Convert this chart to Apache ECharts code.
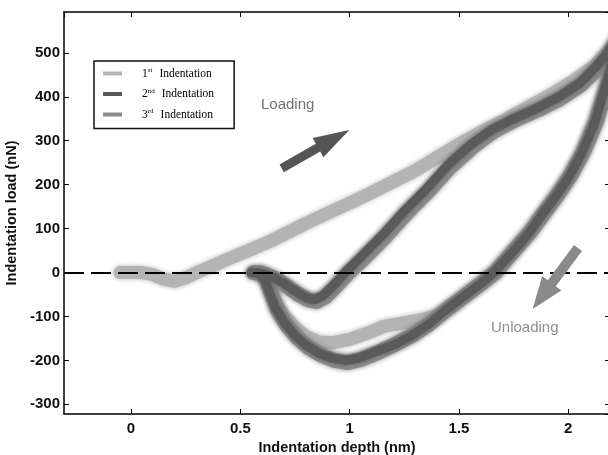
<!DOCTYPE html>
<html>
<head>
<meta charset="utf-8">
<script src="https://cdn.jsdelivr.net/npm/echarts@6/dist/echarts.min.js"></script>
<style>
html,body{margin:0;padding:0;background:#fff;}
#chart{width:608px;height:455px;}
</style>
</head>
<body>
<div id="chart"></div>
<script>
// ---- data (depth in nm, load in nN) ----
const seriesNames = ['1st Indentation', '2nd Indentation', '3rd Indentation'];
const xTicks = [0, 0.5, 1, 1.5, 2];
const yTicks = [-300, -200, -100, 0, 100, 200, 300, 400, 500];

// 1st indentation: loading then unloading
const ind1X = [-0.05,0.05,0.10,0.15,0.20,0.25,0.30,0.36,0.43,0.50,0.57,0.64,0.72,0.80,0.90,1.00,1.10,1.20,1.30,1.40,1.52,1.62,1.72,1.82,1.92,2.02,2.12,2.24,
               2.18,2.12,2.06,2.00,1.94,1.88,1.82,1.76,1.70,1.66,1.60,1.52,1.46,1.40,1.32,1.24,1.16,1.08,1.00,0.92,0.86,0.80,0.75,0.70,0.66,0.63,0.60];
const ind1Y = [0,0,-5,-15,-20,-12,0,12,28,42,57,72,92,112,135,158,182,207,232,262,298,325,350,378,405,435,470,535,
               440,345,272,218,172,132,92,56,22,0,-25,-55,-80,-98,-108,-115,-122,-138,-152,-160,-158,-145,-125,-98,-65,-25,0];

// 2nd indentation
const ind2X = [0.55,0.60,0.65,0.70,0.75,0.80,0.84,0.88,0.93,0.98,1.05,1.15,1.25,1.35,1.45,1.55,1.65,1.75,1.85,1.95,2.05,2.12,2.18,2.24,
               2.18,2.12,2.06,2.00,1.94,1.88,1.82,1.76,1.70,1.66,1.60,1.52,1.44,1.36,1.28,1.20,1.12,1.04,0.98,0.92,0.86,0.80,0.75,0.70,0.66,0.63,0.61,0.58];
const ind2Y = [0,-2,-10,-25,-42,-57,-62,-52,-28,0,35,85,140,190,245,290,325,350,372,398,430,465,500,550,
               440,340,270,215,172,132,90,55,22,0,-25,-55,-85,-118,-145,-165,-180,-195,-200,-195,-184,-165,-143,-113,-80,-40,-15,0];

// 3rd indentation
const ind3X = [0.56,0.61,0.66,0.71,0.76,0.81,0.85,0.89,0.94,0.99,1.06,1.16,1.26,1.36,1.46,1.56,1.66,1.76,1.86,1.96,2.06,2.13,2.19,2.24,
               2.19,2.13,2.07,2.01,1.95,1.89,1.83,1.77,1.71,1.67,1.61,1.53,1.45,1.37,1.29,1.21,1.13,1.05,0.99,0.93,0.87,0.81,0.76,0.71,0.67,0.64,0.62,0.59];
const ind3Y = [0,-3,-14,-30,-48,-62,-66,-55,-30,-3,30,80,135,185,240,285,322,348,370,395,428,462,498,545,
               445,345,275,220,176,136,95,60,26,2,-22,-52,-82,-115,-142,-163,-182,-198,-205,-200,-188,-170,-148,-118,-85,-45,-18,0];

function pairs(xs, ys) { return xs.map((x, i) => [x, ys[i]]); }

const chart = echarts.init(document.getElementById('chart'), null, {renderer: 'canvas'});

const axisFont = {fontFamily: 'Liberation Sans', fontWeight: 'bold', fontSize: 15, color: '#111'};
const xMin = -0.3064, xMax = 2.1908, yMin = -322, yMax = 593;

function xAxisCfg(pos, labels) {
  return {
    type: 'value', position: pos, min: xMin, max: xMax,
    minInterval: 0.5, maxInterval: 0.5, splitNumber: 5,
    axisLine: {onZero: false, lineStyle: {color: '#000', width: 1.5}},
    axisTick: {inside: true, length: 5, lineStyle: {color: '#000', width: 1}},
    axisLabel: labels ? Object.assign({margin: 7, showMinLabel: false, showMaxLabel: false,
      formatter: v => (xTicks.indexOf(v) >= 0 ? String(v) : '')}, axisFont) : {show: false},
    splitLine: {show: false}
  };
}
function yAxisCfg(pos, labels) {
  return {
    type: 'value', position: pos, min: yMin, max: yMax,
    minInterval: 100, maxInterval: 100, splitNumber: 9,
    axisLine: {onZero: false, lineStyle: {color: '#000', width: 1.5}},
    axisTick: {inside: true, length: 5, lineStyle: {color: '#000', width: 1}},
    axisLabel: labels ? Object.assign({margin: 4, showMinLabel: false, showMaxLabel: false,
      formatter: v => (yTicks.indexOf(v) >= 0 ? String(v) : '')}, axisFont) : {show: false},
    splitLine: {show: false}
  };
}

const titleFont = {fontFamily: 'Liberation Sans', fontWeight: 'bold', fontSize: 14.5, color: '#111'};
const xMain = xAxisCfg('bottom', true);
xMain.name = 'Indentation depth (nm)';
xMain.nameLocation = 'middle';
xMain.nameGap = 24;
xMain.nameTextStyle = titleFont;
const yMain = yAxisCfg('left', true);
yMain.name = 'Indentation load (nN)';
yMain.nameLocation = 'middle';
yMain.nameGap = 37;
yMain.nameTextStyle = titleFont;

const colors = ['#b4b4b4', '#5a5a5a', '#8c8c8c'];

function lineSeries(name, xs, ys, color, width, z) {
  return {
    name: name, type: 'line', data: pairs(xs, ys), showSymbol: false, symbol: 'none',
    color: color, clip: true, z: z,
    lineStyle: {color: color, width: width, join: 'round', cap: 'round',
      shadowBlur: 5, shadowColor: color}
  };
}

const option = {
  animation: false,
  backgroundColor: '#fff',
  grid: {left: 64, top: 12, right: -2, bottom: 41, containLabel: false, outerBoundsMode: 'none'},
  xAxis: [xMain, xAxisCfg('top', false)],
  yAxis: [yMain, yAxisCfg('right', false)],
  legend: {
    data: seriesNames,
    orient: 'vertical',
    left: 94, top: 61,
    padding: [6, 20, 8, 9],
    itemGap: 8,
    itemWidth: 19, itemHeight: 4,
    icon: 'rect',
    borderColor: '#111', borderWidth: 1.5,
    backgroundColor: '#fff',
    selectedMode: false,
    formatter: function (name) {
      return name.replace(/^(\d)(st|nd|rd) (.*)$/, '{n|$1}{s|$2}{t|$3}');
    },
    textStyle: {
      color: '#000', fontFamily: 'Liberation Serif', fontSize: 11.5,
      rich: {
        n: {fontFamily: 'Liberation Serif', fontSize: 11.5, color: '#000', padding: [0, 0, 0, 15]},
        s: {fontFamily: 'Liberation Serif', fontSize: 7, color: '#000', padding: [0, 0, 6, 0]},
        t: {fontFamily: 'Liberation Serif', fontSize: 11.5, color: '#000', padding: [0, 0, 0, 7]}
      }
    }
  },
  series: [
    lineSeries(seriesNames[0], ind1X, ind1Y, colors[0], 13, 2),
    lineSeries(seriesNames[2], ind3X, ind3Y, colors[2], 15, 3),
    lineSeries(seriesNames[1], ind2X, ind2Y, colors[1], 9, 4),
    {name: 'zero', type: 'line', data: [], z: 6,
     markLine: {silent: true, symbol: ['none', 'none'], label: {show: false},
       lineStyle: {color: '#000', width: 2, type: [20, 7]}, data: [{yAxis: 0}]}}
  ],
  graphic: [
    {type: 'text', left: 261, top: 97, z: 10,
     style: {text: 'Loading', fontFamily: 'Liberation Sans', fontSize: 15, fill: '#727272'}},
    {type: 'text', left: 491, top: 320, z: 10,
     style: {text: 'Unloading', fontFamily: 'Liberation Sans', fontSize: 15, fill: '#8e8e8e'}},
    {type: 'polygon', z: 10,
     shape: {points: [[279.5,164.4],[315.8,143.8],[312.6,138.1],[349.3,130],[323.4,157.3],[320.2,151.6],[283.9,172.2]]},
     style: {fill: '#555'}},
    {type: 'polygon', z: 10,
     shape: {points: [[574.0,245.0],[547.8,280.3],[542.2,276.1],[532.7,309],[561.4,290.5],[555.8,286.3],[582.0,251.0]]},
     style: {fill: '#8a8a8a'}}
  ]
};
chart.setOption(option);
</script>
</body>
</html>
